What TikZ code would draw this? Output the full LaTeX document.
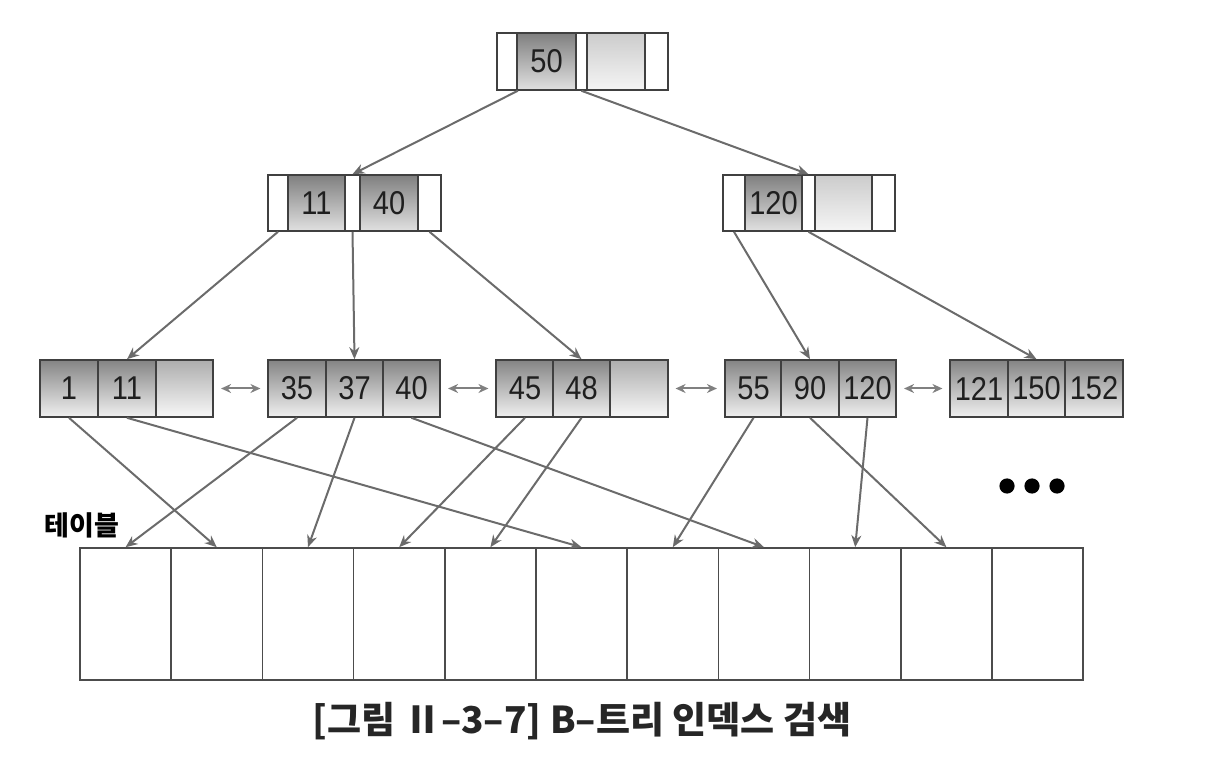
\documentclass[tikz,border=0pt]{standalone}
\usepackage{fontspec}
\setmainfont{Liberation Sans}[FakeStretch=0.88]
\newfontfamily\kor{Noto Sans CJK KR}
\usetikzlibrary{arrows.meta}

\begin{document}
\begin{tikzpicture}[x=0.5pt,y=-0.5pt,
  >={Stealth[length=6pt,width=5pt]},
  cellbase/.style={draw=black!75,line width=0.8pt,inner sep=0pt,
    font=\fontsize{16.5}{18}\selectfont,text=black!88},
  ptrcell/.style={cellbase,fill=white},
  keycell/.style={cellbase,top color=black!50,bottom color=black!12},
  emptycell/.style={cellbase,top color=black!20,bottom color=black!4},
  leafcell/.style={cellbase,minimum width=28.75pt,minimum height=28.5pt,
    top color=black!48,bottom color=black!6},
  emptyleaf/.style={leafcell,top color=black!32,bottom color=black!3},
  tblcell/.style={draw=black!70,line width=0.8pt,inner sep=0pt,
    minimum width=45.6pt,minimum height=66pt},
  ptrarrow/.style={->,draw=black!58,line width=1pt},
  sibarrow/.style={{Stealth[length=5pt,width=4.5pt]}-{Stealth[length=5pt,width=4.5pt]},
    draw=black!50,line width=1pt,shorten >=3.5pt,shorten <=3.5pt}]
\useasboundingbox (0,0) rectangle (1210,764);

% root
\begin{scope}[every node/.append style={minimum height=28.5pt}]
\node[ptrcell,minimum width=10pt] (r0) at (507,61.5) {};
\node[keycell,minimum width=29.5pt] (r1) at (546.5,61.5) {50};
\node[ptrcell,minimum width=5.5pt] (r2) at (581.5,61.5) {};
\node[emptycell,minimum width=29pt] (r3) at (616,61.5) {};
\node[ptrcell,minimum width=11.5pt] (r4) at (656.5,61.5) {};
\end{scope}

% second level
\begin{scope}[every node/.append style={minimum height=28pt}]
\node[ptrcell,minimum width=10pt] (a0) at (278,203) {};
\node[keycell,minimum width=28.5pt] (a1) at (316.5,203) {11};
\node[ptrcell,minimum width=7.5pt] (a2) at (352.5,203) {};
\node[keycell,minimum width=29pt] (a3) at (389,203) {40};
\node[ptrcell,minimum width=11.5pt] (a4) at (429.5,203) {};
\node[ptrcell,minimum width=11pt] (b0) at (734,203) {};
\node[keycell,minimum width=28.5pt] (b1) at (773.5,203) {120};
\node[ptrcell,minimum width=6.5pt] (b2) at (808.5,203) {};
\node[emptycell,minimum width=28.5pt] (b3) at (843.5,203) {};
\node[ptrcell,minimum width=11.5pt] (b4) at (883.5,203) {};
\end{scope}

% leaves
\foreach \x/\t/\s [count=\i] in {69/1/leafcell,127/11/leafcell,184.5/{}/emptyleaf,
    297/35/leafcell,354.5/37/leafcell,411.5/40/leafcell,
    525/45/leafcell,581.5/48/leafcell,639/{}/emptyleaf,
    753.5/55/leafcell,810/90/leafcell,867.5/120/leafcell,
    979/121/leafcell,1036.5/150/leafcell,1094/152/leafcell}
{       \node[\s] (c\i) at (\x,388.5) {\t};
}
\foreach \a/\b in {3/4,6/7,9/10,12/13}
{       \draw[sibarrow] (c\a.east) -- (c\b.west);
}

% table
\foreach \i in {1,...,11}
{       \node[tblcell] (t\i) at ({80+91.2*(\i-0.5)},614) {};
}
\node[font=\kor\bfseries\fontsize{13.5}{15}\selectfont] (tbl) at (82,525) {테이블};

% pointers
\draw[ptrarrow] (r0.south east) -- (a2.north);
\draw[ptrarrow] (r2.south) -- (b2.north);
\draw[ptrarrow] (a0.south) -- (c2.north);
\draw[ptrarrow] (a2.south) -- (c5.north);
\draw[ptrarrow] (a4.south) -- (c8.north);
\draw[ptrarrow] (b0.south) -- (c11.north);
\draw[ptrarrow] (b2.south) -- (c14.north);
\foreach \a/\b in {4/1,1/2,5/3,7/4,8/5,2/6,10/7,6/8,12/9,11/10}
{       \draw[ptrarrow] (c\a.south) -- (t\b.north);
}

\foreach \x in {1007,1032,1057}
{       \fill (\x,486) circle (3.8pt);
}

\node[font=\kor\bfseries\fontsize{18.5}{22}\selectfont,text=black!85] (cap) at (582,721) {[그림 Ⅱ–3–7] B–트리 인덱스 검색};
\end{tikzpicture}
\end{document}
